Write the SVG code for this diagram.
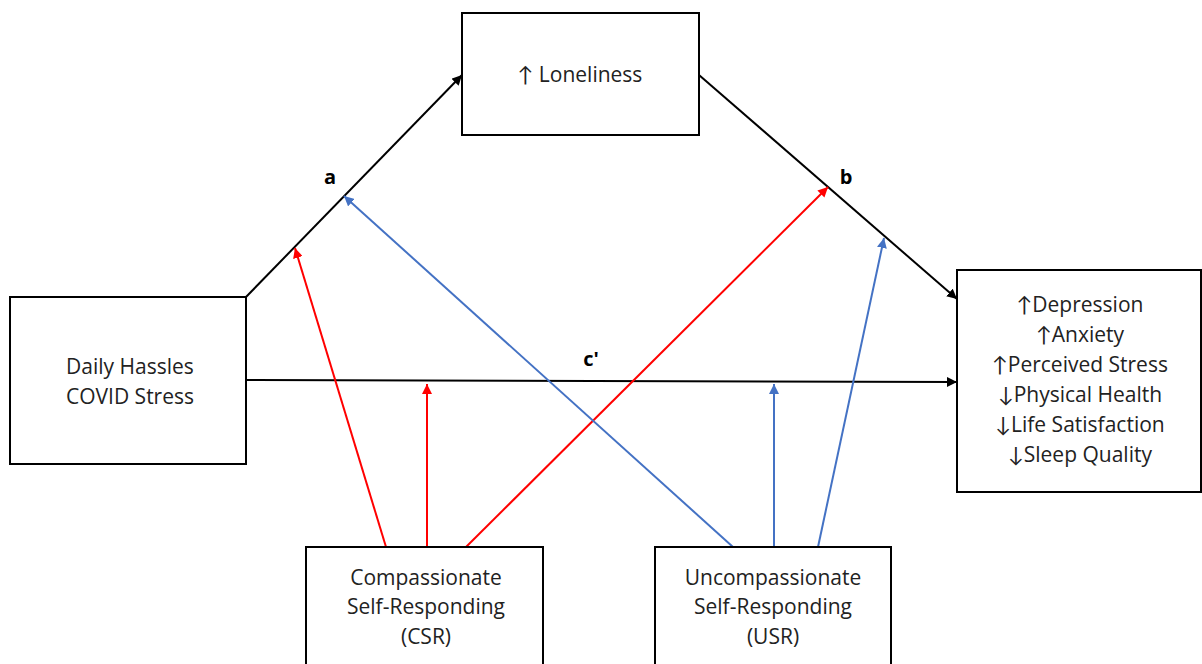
<svg xmlns="http://www.w3.org/2000/svg" width="1202" height="664" viewBox="0 0 1202 664">
<style>
.box{fill:#fff;stroke:#000;stroke-width:2}
.t{font-family:"Open Sans","Noto Sans",Lato,sans-serif;font-size:21px;fill:#222;text-anchor:middle}
.lbl{font-family:"Open Sans","Liberation Sans",sans-serif;font-size:20px;font-weight:bold;fill:#000;text-anchor:middle}
.k{stroke:#000;stroke-width:2;fill:none}
.r{stroke:#ff0000;stroke-width:2;fill:none}
.bl{stroke:#4472c4;stroke-width:2;fill:none}
</style>
<defs>
<marker id="ak" viewBox="0 0 10 10" refX="10" refY="5" markerWidth="5" markerHeight="5" orient="auto" markerUnits="strokeWidth"><path d="M0,0 L10,5 L0,10 z" fill="#000"/></marker>
<marker id="ar" viewBox="0 0 10 10" refX="10" refY="5" markerWidth="5" markerHeight="5" orient="auto" markerUnits="strokeWidth"><path d="M0,0 L10,5 L0,10 z" fill="#ff0000"/></marker>
<marker id="ab" viewBox="0 0 10 10" refX="10" refY="5" markerWidth="5" markerHeight="5" orient="auto" markerUnits="strokeWidth"><path d="M0,0 L10,5 L0,10 z" fill="#4472c4"/></marker>
</defs>
<rect width="1202" height="664" fill="#fff"/>
<g id="connectors">
<line class="k" x1="246" y1="297" x2="462" y2="75" marker-end="url(#ak)"/>
<line class="k" x1="699" y1="75" x2="957" y2="299" marker-end="url(#ak)"/>
<line class="k" x1="246" y1="380" x2="957" y2="382" marker-end="url(#ak)"/>
<line class="r" x1="386" y1="547" x2="295" y2="248" marker-end="url(#ar)"/>
<line class="r" x1="427" y1="547" x2="427" y2="384" marker-end="url(#ar)"/>
<line class="r" x1="466" y1="547" x2="828" y2="187" marker-end="url(#ar)"/>
<line class="bl" x1="733" y1="547" x2="344" y2="196" marker-end="url(#ab)"/>
<line class="bl" x1="774" y1="547" x2="774" y2="384" marker-end="url(#ab)"/>
<line class="bl" x1="818" y1="547" x2="884" y2="238" marker-end="url(#ab)"/>
<text class="lbl" x="330" y="184">a</text>
<text class="lbl" x="846" y="184">b</text>
<text class="lbl" x="591" y="366">c'</text>
</g>
<g id="loneliness">
<rect class="box" x="462" y="13" width="237" height="122"/>
<text class="t" x="580" y="82">↑ Loneliness</text>
</g>
<g id="hassles">
<rect class="box" x="10" y="297" width="236" height="167"/>
<text class="t" x="130" y="374">Daily Hassles</text>
<text class="t" x="130" y="404">COVID Stress</text>
</g>
<g id="outcomes">
<rect class="box" x="957" y="270" width="244" height="222"/>
<text class="t" x="1080" y="312">↑Depression</text>
<text class="t" x="1080" y="342">↑Anxiety</text>
<text class="t" x="1080" y="372">↑Perceived Stress</text>
<text class="t" x="1080" y="402">↓Physical Health</text>
<text class="t" x="1080" y="432">↓Life Satisfaction</text>
<text class="t" x="1080" y="462">↓Sleep Quality</text>
</g>
<g id="csr">
<rect class="box" x="306" y="547" width="237" height="130"/>
<text class="t" x="426" y="585">Compassionate</text>
<text class="t" x="426" y="614">Self-Responding</text>
<text class="t" x="426" y="644">(CSR)</text>
</g>
<g id="usr">
<rect class="box" x="655" y="547" width="236" height="130"/>
<text class="t" x="773" y="585">Uncompassionate</text>
<text class="t" x="773" y="614">Self-Responding</text>
<text class="t" x="773" y="644">(USR)</text>
</g>
</svg>
